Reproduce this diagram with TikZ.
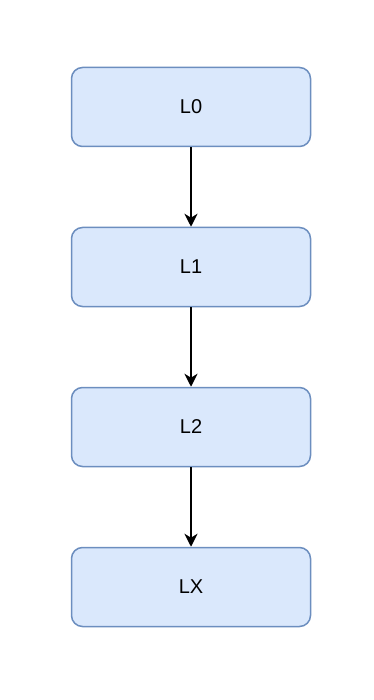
\documentclass[tikz,border=0pt]{standalone}
\usepackage{fontspec}
\setmainfont{Liberation Sans}
\usetikzlibrary{arrows.meta}
\definecolor{boxfill}{HTML}{DAE8FC}
\definecolor{boxline}{HTML}{6C8EBF}
\begin{document}
\begin{tikzpicture}[x=1pt,y=-1pt,
  layerbox/.style={draw=boxline,fill=boxfill,line width=1.5pt,rounded corners=11pt,
    minimum width=239pt,minimum height=79pt,inner sep=0pt,
    font=\fontsize{20}{24}\selectfont},
  flow/.style={draw=black,line width=2pt,-{Stealth[length=13pt,width=13pt,inset=4pt]}}]
\useasboundingbox (0,0) rectangle (374,700);
\node[layerbox] (l0) at (191,107) {L0};
\node[layerbox] (l1) at (191,267) {L1};
\node[layerbox] (l2) at (191,427) {L2};
\node[layerbox] (lx) at (191,587) {LX};
\draw[flow] (l0) -- (l1);
\draw[flow] (l1) -- (l2);
\draw[flow] (l2) -- (lx);
\end{tikzpicture}
\end{document}
